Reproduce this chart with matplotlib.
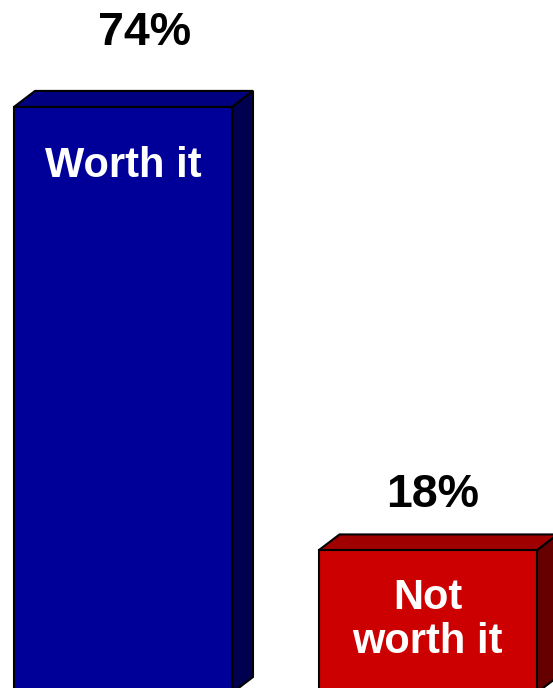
import matplotlib
matplotlib.use("Agg")
import matplotlib.pyplot as plt
from matplotlib.patches import Polygon

# data
categories = ["Worth it", "Not\nworth it"]
values = [74, 18]
pct_labels = ["74%", "18%"]

# colours: front, top, side
front_colors = ["#000099", "#CC0000"]
top_colors = ["#000080", "#A00000"]
side_colors = ["#000050", "#660000"]

W, H = 553, 688
px_x = 304.5          # pixels per category step
px_y = 7.92           # pixels per percent
base_px = 693         # baseline (below visible area)
x0_px = 123           # centre of first bar

fig = plt.figure(figsize=(W / 100, H / 100), dpi=100)
ax = fig.add_axes([0, 0, 1, 1])
ax.set_xlim(-x0_px / px_x, (W - x0_px) / px_x)
ax.set_ylim((base_px - H) / px_y, base_px / px_y)
ax.axis("off")

xs = list(range(len(values)))
width = 218 / px_x
dx = 21 / px_x
dy = 16 / px_y
lw = 1.5

ax.bar(xs, values, width=width, color=front_colors, edgecolor="black",
       linewidth=lw, zorder=3)

for x, v, tc, sc in zip(xs, values, top_colors, side_colors):
    l, r = x - width / 2, x + width / 2
    top = Polygon([(l, v), (r, v), (r + dx, v + dy), (l + dx, v + dy)],
                  closed=True, facecolor=tc, edgecolor="black", linewidth=lw,
                  joinstyle="miter", zorder=2)
    side = Polygon([(r, 0), (r, v), (r + dx, v + dy), (r + dx, dy)],
                   closed=True, facecolor=sc, edgecolor="black", linewidth=lw,
                   joinstyle="miter", zorder=2)
    ax.add_patch(side)
    ax.add_patch(top)

font = dict(family="Liberation Sans", weight="bold")

# percentage labels above the bars
pct_dx = [21.5 / px_x, 5 / px_x]
pct_dy = [7.8, 5.5]
for x, v, t, ox, oy in zip(xs, values, pct_labels, pct_dx, pct_dy):
    ax.text(x + ox, v + oy, t, ha="center", va="baseline", fontsize=33.5,
            color="black", zorder=5, **font)

# category names inside the bars (baseline of the last line)
in_dy = [8.8, 12.95]
for x, v, c, oy in zip(xs, values, categories, in_dy):
    ax.text(x, v - oy, c, ha="center", va="baseline", fontsize=30,
            color="white", linespacing=1.14, multialignment="center",
            zorder=5, **font)

fig.savefig("out.png", dpi=100)
